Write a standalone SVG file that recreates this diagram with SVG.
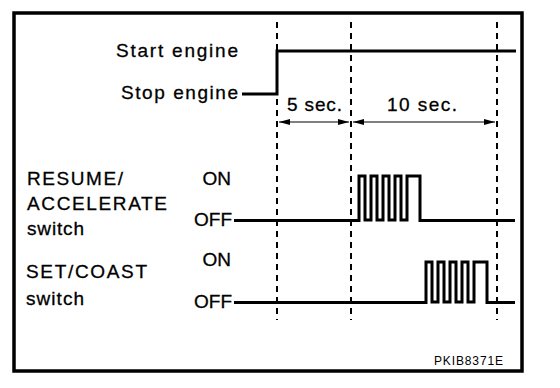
<svg xmlns="http://www.w3.org/2000/svg" width="560" height="388" viewBox="0 0 560 388">
  <defs>
    <style>
      .t { font-family: "Liberation Sans", Arial, Helvetica, sans-serif; font-size: 19px; fill: #000; stroke: #000; stroke-width: 0.3px; }
      .e { text-anchor: end; }
      .s { font-family: "Liberation Sans", Arial, Helvetica, sans-serif; font-size: 12px; fill: #000; }
      .sig { fill: none; stroke: #000; stroke-width: 3; stroke-linejoin: miter; stroke-linecap: butt; }
      .pulse { fill: none; stroke: #000; stroke-width: 3; stroke-linejoin: miter; }
      .dash { stroke: #000; stroke-width: 2; stroke-dasharray: 6 5; fill: none; }
      .dim { stroke: #000; stroke-width: 1; fill: none; }
    </style>
    <marker id="ah" viewBox="0 0 11 6" refX="11" refY="3" markerWidth="11" markerHeight="6" markerUnits="userSpaceOnUse" orient="auto-start-reverse">
      <path d="M0,0 L11,3 L0,6 Z" fill="#000"/>
    </marker>
  </defs>
  <rect width="560" height="388" fill="#fff"/>
  <rect id="frame" x="14" y="13" width="508" height="358" fill="none" stroke="#000" stroke-width="3.5"/>

  <g id="connectors">
    <line class="dash" x1="277" y1="22" x2="277" y2="320"/>
    <line class="dash" x1="351" y1="22" x2="351" y2="320"/>
    <line class="dash" x1="497" y1="22" x2="497" y2="320"/>
    <line class="dim" x1="279" y1="122" x2="349" y2="122" marker-start="url(#ah)" marker-end="url(#ah)"/>
    <line class="dim" x1="353" y1="122" x2="495" y2="122" marker-start="url(#ah)" marker-end="url(#ah)"/>
  </g>

  <g id="engine">
    <text class="t" x="116" y="57" textLength="122" lengthAdjust="spacing">Start engine</text>
    <text class="t" x="121" y="99" textLength="117" lengthAdjust="spacing">Stop engine</text>
    <path class="sig" d="M242,94 H277 V51 H516" stroke-width="3.5"/>
  </g>

  <g id="timing-labels">
    <text class="t" x="287" y="111" textLength="55" lengthAdjust="spacing">5 sec.</text>
    <text class="t" x="387" y="111" textLength="70" lengthAdjust="spacing">10 sec.</text>
  </g>

  <g id="resume-accelerate">
    <text class="t" x="27" y="185" textLength="96" lengthAdjust="spacing">RESUME/</text>
    <text class="t" x="27" y="210" textLength="140" lengthAdjust="spacing">ACCELERATE</text>
    <text class="t" x="27" y="235" textLength="57" lengthAdjust="spacing">switch</text>
    <text class="t e" x="231" y="185">ON</text>
    <text class="t e" x="232" y="226">OFF</text>
    <path class="sig" d="M234,220.5 H360"/>
    <path class="pulse" d="M357,220.5 H359 V176 H365 V220 H371 V176 H377 V220 H383 V176 H389 V220 H395 V176 H401 V220 H407 V176 H420 V220.5 H422"/>
    <path class="sig" d="M420,220.5 H515"/>
  </g>

  <g id="set-coast">
    <text class="t" x="26" y="278" textLength="121" lengthAdjust="spacing">SET/COAST</text>
    <text class="t" x="26" y="305" textLength="58" lengthAdjust="spacing">switch</text>
    <text class="t e" x="231" y="266">ON</text>
    <text class="t e" x="232" y="308">OFF</text>
    <path class="sig" d="M234,302.5 H426"/>
    <path class="pulse" d="M424,302.5 H426 V262 H432 V302 H438 V262 H444 V302 H450 V262 H456 V302 H462 V262 H468 V302 H474 V262 H487 V302.5 H489"/>
    <path class="sig" d="M487,302.5 H515"/>
  </g>

  <text id="code" class="s" x="434" y="365" textLength="69" lengthAdjust="spacing">PKIB8371E</text>
</svg>
